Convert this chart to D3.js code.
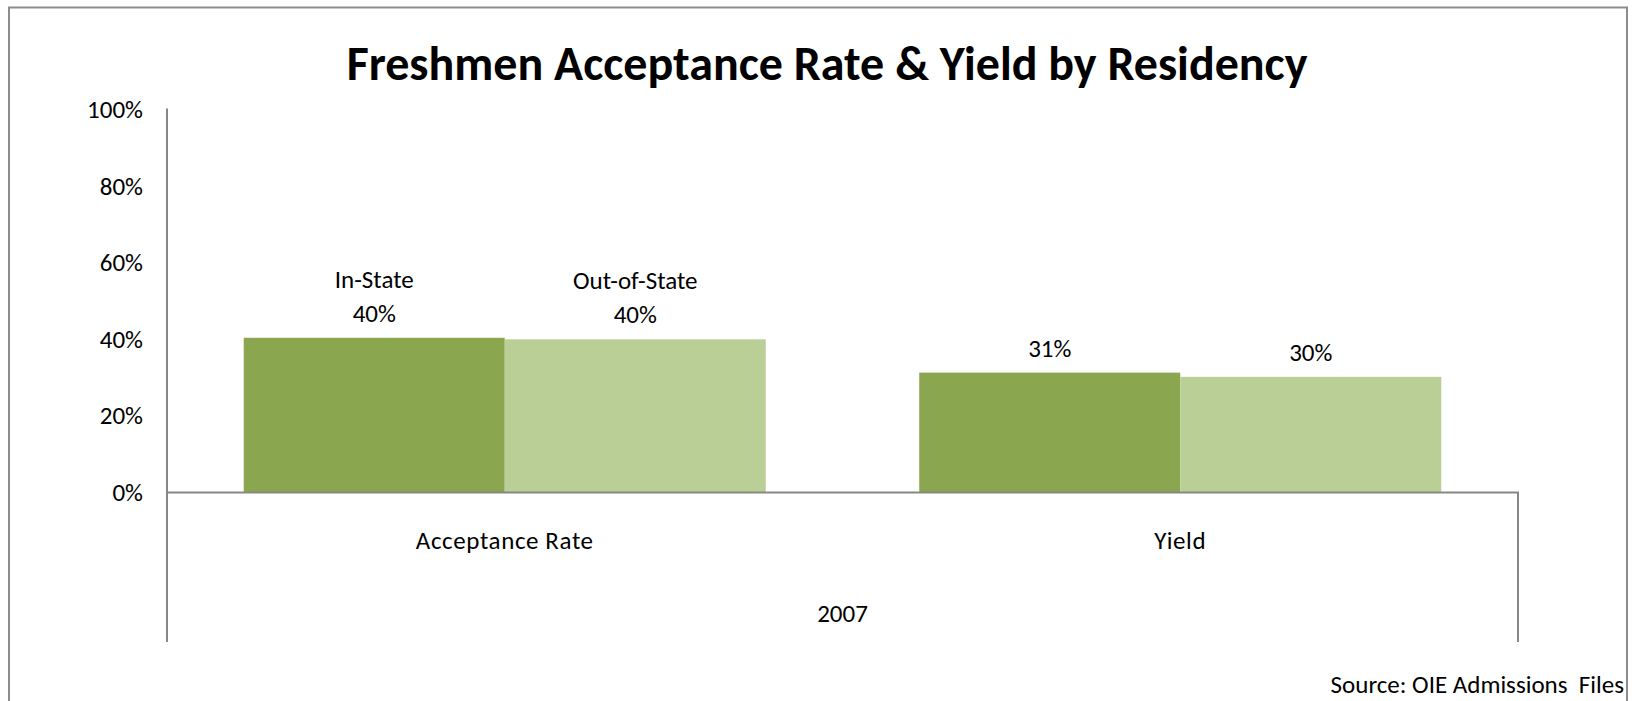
<!DOCTYPE html>
<html>
<head>
<meta charset="utf-8">
<script src="https://cdn.jsdelivr.net/npm/d3@7"></script>
<style>
  body { margin: 0; background: #fff; }
  svg { display: block; font-family: Carlito, Lato, "Liberation Sans", sans-serif; }
</style>
</head>
<body>
<svg id="chart" width="1636" height="701"></svg>
<script>
// data
const categories = ["Acceptance Rate", "Yield"];
const seriesNames = ["In-State", "Out-of-State"];
const inState = [40.4, 31.3];
const outOfState = [40.0, 30.2];
const yTicks = [0, 20, 40, 60, 80, 100];
const yearLabel = "2007";
const colors = ["#8aa64f", "#bacf96"];

const svg = d3.select('#chart');
const plotL = 167, plotR = 1518, plotT = 109.5, zero = 492.5, plotB = 642;
const fs = 25;

// outer frame
svg.append('rect')
    .attr('x', 9).attr('y', 7.5).attr('width', 1618).attr('height', 720)
    .attr('fill', 'none').attr('stroke', '#8c8c8c').attr('stroke-width', 2);

svg.append('text')
    .attr('x', 827).attr('y', 80)
    .attr('text-anchor', 'middle')
    .attr('font-weight', 'bold').attr('font-size', 48)
    .attr('fill', '#000')
    .text('Freshmen Acceptance Rate & Yield by Residency');

let y = d3.scaleLinear().domain([0, 100]).range([zero, plotT]);
let x0 = d3.scaleBand().domain(categories).range([plotL, plotR]).padding(0);
let x1 = d3.scaleBand().domain(seriesNames).range([0, x0.bandwidth()])
    .paddingInner(0).paddingOuter(0.294);

// y axis labels
let yAxis = d3.axisLeft(y).tickValues(yTicks).tickFormat(d => d + '%').tickSize(0).tickPadding(24);
let gy = svg.append('g').attr('transform', `translate(${plotL},0)`).call(yAxis);
gy.attr('font-family', null).attr('font-size', null);
gy.select('.domain').remove();
gy.selectAll('text').attr('font-size', 25).attr('fill', '#000');

let data = categories.map((c, i) => ({cat: c, vals: [
    {s: seriesNames[0], v: inState[i]},
    {s: seriesNames[1], v: outOfState[i]}
]}));

let groups = svg.selectAll('.grp').data(data).enter().append('g')
    .attr('class', 'grp')
    .attr('transform', d => `translate(${x0(d.cat)},0)`);

groups.selectAll('rect').data(d => d.vals).enter().append('rect')
    .attr('x', d => x1(d.s))
    .attr('y', d => y(d.v))
    .attr('width', x1.bandwidth())
    .attr('height', d => zero - y(d.v))
    .attr('fill', (d, i) => colors[i]);

// value labels, series name only on first group
groups.each(function(g, gi) {
    d3.select(this).selectAll('.lbl').data(g.vals).enter().append('text')
        .attr('class', 'lbl')
        .attr('text-anchor', 'middle')
        .attr('font-size', fs)
        .attr('fill', '#000')
        .attr('x', d => x1(d.s) + x1.bandwidth() / 2)
        .attr('y', d => y(d.v) - 16)
        .text(d => Math.round(d.v) + '%');
    if (gi === 0) {
        d3.select(this).selectAll('.nm').data(g.vals).enter().append('text')
            .attr('class', 'nm')
            .attr('text-anchor', 'middle')
            .attr('font-size', fs)
            .attr('fill', '#000')
            .attr('x', d => x1(d.s) + x1.bandwidth() / 2)
            .attr('y', d => y(d.v) - 50)
            .text(d => d.s);
    }
});

// axes lines
let axisCol = '#878787';
svg.append('line').attr('x1', plotL).attr('x2', plotL).attr('y1', plotT - 1).attr('y2', plotB)
    .attr('stroke', axisCol).attr('stroke-width', 2);
svg.append('line').attr('x1', plotL).attr('x2', plotR + 1).attr('y1', zero).attr('y2', zero)
    .attr('stroke', axisCol).attr('stroke-width', 2);
svg.append('line').attr('x1', plotR).attr('x2', plotR).attr('y1', zero).attr('y2', plotB)
    .attr('stroke', axisCol).attr('stroke-width', 2);

// category labels
svg.selectAll('.cat').data(categories).enter().append('text')
    .attr('class', 'cat')
    .attr('text-anchor', 'middle')
    .attr('font-size', fs)
    .attr('letter-spacing', 0.6)
    .attr('x', d => x0(d) + x0.bandwidth() / 2)
    .attr('y', 549)
    .text(d => d);

svg.append('text')
    .attr('text-anchor', 'middle')
    .attr('font-size', fs)
    .attr('x', (plotL + plotR) / 2)
    .attr('y', 622)
    .text(yearLabel);

svg.append('text')
    .attr('text-anchor', 'end')
    .attr('font-size', fs)
    .attr('x', 1624)
    .attr('y', 693)
    .style('white-space', 'pre')
    .text('Source: OIE Admissions  Files');
</script>
</body>
</html>
